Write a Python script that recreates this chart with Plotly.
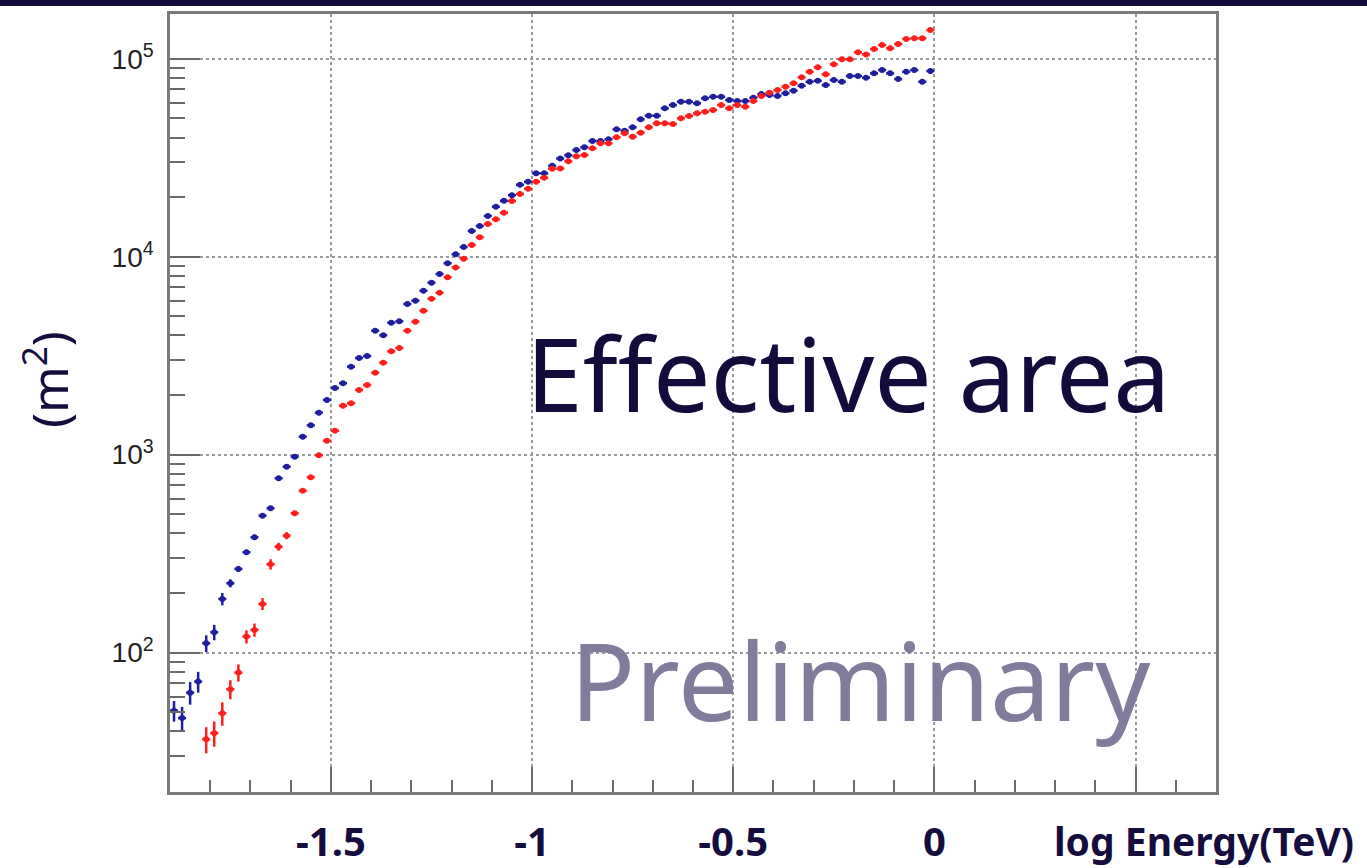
import plotly.graph_objects as go

# Histogram binning in log10(E / TeV)
BIN_LO = -1.9
BIN_WIDTH = 0.02
N_BINS = 95
bin_centers = [round(BIN_LO + BIN_WIDTH * (i + 0.5), 3) for i in range(N_BINS)]

# Effective area (m^2), blue set
area_blue = [50.9, 46.7, 62.8, 71.4, 111.5, 126.8, 186.8, 224.2, 264.8, 321.3,
             382.6, 491.8, 536.0, 760.3, 869.6, 977, 1233, 1407, 1630, 1889,
             2173, 2296, 2782, 3078, 3148, 4227, 4010, 4645, 4720, 5768,
             5998, 6730, 7396, 8180, 9265, 10280, 11190, 13490, 14290, 16060,
             17890, 19150, 20450, 23080, 23890, 26380, 26380, 28770, 31330, 32520,
             34580, 35700, 38390, 38390, 39170, 43980, 43290, 45060, 49400, 51540,
             51540, 56170, 58340, 60660, 60660, 59540, 63100, 64270, 64270, 61850,
             61140, 61140, 63530, 66340, 65570, 64800, 66850, 68930, 73030, 76510,
             77400, 73600, 78040, 76510, 81780, 81780, 80170, 84360, 87690, 84360,
             78980, 85980, 87690, 76510, 86680]
err_blue = [6.1, 6.5, 8.2, 8.6, 10.8, 11.4, 13.4, 10.5, 9.3, 9.6, 11.0, 12.0, 13.0]

# Effective area (m^2), red set (first filled bin is index 4)
area_red = [None, None, None, None,
            36.5, 39.2, 49.4, 65.3, 79.3, 120.5, 130.3, 176.2, 279.4, 343,
            389.9, 505.8, 657.7, 769.1, 993.1, 1177, 1321, 1767, 1820, 2123,
            2249, 2595, 2917, 3327, 3459, 4227, 4698, 5334, 6138, 6577,
            7870, 8831, 9772, 11460, 12530, 14630, 15450, 16680, 19110, 20730,
            22040, 23920, 25060, 27820, 27900, 30330, 32140, 32650, 35280, 37400,
            37400, 40090, 41980, 40370, 42290, 45060, 47180, 47180, 46770, 50000,
            51380, 52970, 53980, 55080, 58340, 56170, 58340, 57240, 61140, 64800,
            67330, 69500, 72250, 75120, 80540, 85980, 90500, 83390, 93750, 99310,
            99310, 107700, 105200, 111900, 117300, 112900, 118700, 125800, 126800, 126800,
            139600]
err_red = [0, 0, 0, 0, 5.5, 5.7, 6.7, 7.2, 7.9, 9.2, 9.9, 12.3, 16.8, 16.0, 16.0]

x_tick_vals = [-1.5, -1, -0.5, 0, 0.5]
x_tick_text = ["-1.5", "-1", "-0.5", "0", " "]
y_tick_vals = [1e2, 1e3, 1e4, 1e5]
y_tick_text = ["10<sup>2</sup>", "10<sup>3</sup>", "10<sup>4</sup>", "10<sup>5</sup>"]
y_minor_vals = [m * 10 ** d for d in range(1, 5) for m in range(2, 10)]

NAVY = "#150d3d"
BLUE = "#1e1e9e"
RED = "#ff1e1e"


def pad(errs):
    return errs + [0] * (N_BINS - len(errs))


def series(values, errs, color):
    return go.Scatter(
        x=bin_centers, y=values, mode="markers",
        marker=dict(symbol="circle", size=6, color=color),
        error_x=dict(type="constant", value=BIN_WIDTH / 2, color=color,
                     thickness=2.5, width=0),
        error_y=dict(type="data", array=pad(errs), color=color,
                     thickness=2.5, width=0),
        showlegend=False, hoverinfo="x+y",
    )


fig = go.Figure()
fig.add_trace(series(area_blue, err_blue, BLUE))
fig.add_trace(series(area_red, err_red, RED))

frame = dict(showline=True, linecolor="#7a7a7a", linewidth=2.5, mirror=True,
             showgrid=True, gridcolor="#9a9a9a", gridwidth=1.5, griddash="dot",
             zeroline=False, ticks="inside", tickcolor="#6a6a6a", tickwidth=2,
             automargin=False)

fig.update_xaxes(
    range=[-1.9, 0.7], tickvals=x_tick_vals,
    ticktext=[f"<b>{t}</b>" for t in x_tick_text],
    ticklen=25, ticklabelstandoff=13,
    tickfont=dict(family="Noto Sans", size=40, color=NAVY),
    minor=dict(dtick=0.1, tick0=0, ticks="inside", ticklen=12,
               tickcolor="#6a6a6a", tickwidth=2, showgrid=False),
    **frame,
)
fig.update_yaxes(
    type="log", range=[1.296, 5.226], tickvals=y_tick_vals, ticktext=y_tick_text,
    ticklen=30, ticklabelstandoff=8,
    tickfont=dict(family="Liberation Sans", size=28, color="#222222"),
    minor=dict(tickvals=y_minor_vals, ticks="inside", ticklen=15,
               tickcolor="#6a6a6a", tickwidth=2, showgrid=False),
    **frame,
)

W, H = 1367, 868
L, R, T, B = 170, 151, 14, 76
pw, ph = W - L - R, H - T - B


def px(xp):
    return (xp - L) / pw


def py(yp):
    return (H - B - yp) / ph


fig.update_layout(
    width=W, height=H, margin=dict(l=L, r=R, t=T, b=B, autoexpand=False),
    paper_bgcolor="white", plot_bgcolor="white",
    shapes=[dict(type="rect", xref="paper", yref="paper",
                 x0=px(-10), x1=px(W + 10), y0=py(6), y1=py(-10),
                 fillcolor="#120a3a", line=dict(width=0), layer="above")],
    annotations=[
        dict(text="Effective area", xref="paper", yref="paper",
             x=px(848), y=py(372), xanchor="center", yanchor="middle",
             showarrow=False, font=dict(family="Noto Sans", size=102, color="#140a3c")),
        dict(text="Preliminary", xref="paper", yref="paper",
             x=px(860), y=py(679), xanchor="center", yanchor="middle",
             showarrow=False, font=dict(family="Noto Sans", size=108, color="#827c9c")),
        dict(text="(m<sup>2</sup>)", xref="paper", yref="paper",
             x=px(46), y=py(380), xanchor="center", yanchor="middle", textangle=-90,
             showarrow=False, font=dict(family="Noto Sans", size=50, color=NAVY)),
        dict(text="<b>log Energy(TeV)</b>", xref="paper", yref="paper",
             x=px(1204), y=py(840), xanchor="center", yanchor="middle",
             showarrow=False, font=dict(family="Noto Sans", size=39, color=NAVY)),
    ],
)

fig.write_html("out.html")
